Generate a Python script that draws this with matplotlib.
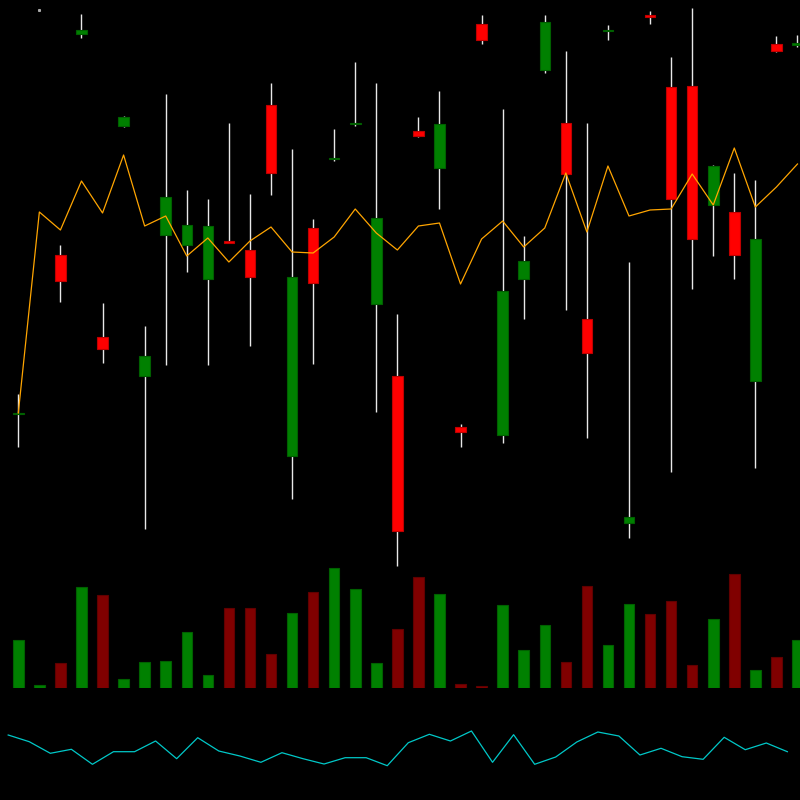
import matplotlib
matplotlib.use("Agg")
import matplotlib.pyplot as plt
import numpy as np

# OHLC data
opens = [18.65, 59.0, 34.5, 56.57, 26.3, 47.37, 22.37, 36.53, 35.47, 32.07,
         35.93, 34.97, 49.5, 14.43, 37.17, 44.07, 47.57, 29.63, 22.43, 46.93,
         43.2, 17.3, 57.6, 16.5, 32.13, 53.03, 47.7, 28.1, 56.92, 7.7,
         58.53, 51.27, 51.37, 39.5, 38.8, 21.93, 55.6, 55.47]
highs = [20.6, 59.0, 35.5, 58.6, 29.7, 48.43, 27.4, 50.6, 41.0, 40.07,
         47.67, 40.63, 51.67, 45.1, 38.1, 47.07, 53.77, 51.67, 28.6, 48.27,
         50.9, 17.6, 58.5, 49.07, 36.4, 58.5, 54.9, 47.67, 57.5, 33.83,
         58.9, 54.3, 59.17, 43.5, 42.7, 42.0, 56.4, 56.5]
lows = [15.3, 59.0, 29.8, 56.23, 23.73, 47.3, 7.1, 23.53, 32.77, 23.53,
        35.7, 25.43, 40.47, 10.1, 23.63, 43.93, 47.43, 18.8, 3.4, 46.3,
        39.1, 15.33, 55.6, 15.73, 28.07, 52.73, 29.0, 16.17, 56.03, 6.17,
        57.63, 12.8, 31.07, 34.37, 32.13, 13.23, 54.77, 55.27]
closes = [18.75, 59.0, 31.9, 57.03, 25.1, 48.27, 24.37, 40.33, 37.47, 37.4,
          35.7, 32.33, 42.73, 32.27, 31.7, 44.17, 47.73, 38.2, 6.93, 46.43,
          47.6, 16.83, 56.03, 30.9, 33.93, 57.77, 42.63, 24.67, 57.02, 8.3,
          58.33, 40.1, 36.1, 43.43, 34.47, 36.1, 54.9, 55.73]

# moving average line (orange)
ma = [18.7, 38.8, 37.0, 41.9, 38.7, 44.5, 37.4, 38.4, 34.4, 36.2,
      33.8, 35.9, 37.3, 34.8, 34.7, 36.3, 39.1, 36.7, 35.0, 37.4,
      37.7, 31.6, 36.1, 37.9, 35.3, 37.2, 42.7, 36.8, 43.4, 38.4,
      39.0, 39.1, 42.6, 39.5, 45.2, 39.3, 41.3, 43.6]

# volume
volume = [477, 30, 253, 1010, 930, 87, 260, 273, 557, 130,
          800, 800, 340, 750, 963, 1197, 987, 253, 590, 1110,
          943, 40, 20, 827, 380, 627, 263, 1017, 427, 840,
          740, 870, 230, 687, 1137, 183, 307, 477]

# oscillator (cyan)
osc = [65, 58.3, 46.7, 50.7, 35.7, 48.3, 48.3, 59, 41.3, 62.3,
       49, 44, 37.7, 47.3, 41.3, 36, 42.3, 42.3, 34.3, 57.3,
       65.7, 59, 69, 37.7, 65.3, 35.7, 43, 58, 68, 64,
       45, 51.7, 43.3, 40.7, 62.7, 50.3, 57, 48.3]

n = len(opens)
x = np.arange(n)
o = np.array(opens)
c = np.array(closes)
h = np.array(highs)
l = np.array(lows)
up = c >= o
flat = h == l  # no range -> only a dot
xlim = (-0.869, 37.12)

fig = plt.figure(figsize=(8, 8), dpi=100, facecolor="black")

# price panel
ax = fig.add_axes([0, 0, 1, 1])
ax.set_facecolor("none")
ax.vlines(x, l, h, color="#e8e8e8", linewidth=1.0, zorder=1)
ax.plot(x[flat], h[flat], "s", color="#aaaaaa", markersize=1.2, zorder=1)
m = ~flat
body_col = np.where(up, "#008000", "#ff0000")[m]
edge_col = np.where(up, "#006000", "#c00000")[m]
bottoms = np.minimum(o, c)[m]
heights = np.maximum(np.abs(c - o), 0.05)[m]
ax.bar(x[m], heights, bottom=bottoms, width=0.5, color=body_col,
       edgecolor=edge_col, linewidth=0.8, zorder=2)
ax.plot(x, ma, color="#ffa500", linewidth=0.9, zorder=3)
ax.set_xlim(*xlim)
ax.set_ylim(-20, 60)
ax.axis("off")

# volume panel
axv = fig.add_axes([0, 0.14, 1, 0.16])
axv.set_facecolor("none")
vol_col = np.where(up, "#008000", "#800000")
vol_edge = np.where(up, "#006000", "#600000")
axv.bar(x, volume, width=0.5, color=vol_col, edgecolor=vol_edge, linewidth=0.8)
axv.set_xlim(*xlim)
axv.set_ylim(0, 1280)
axv.axis("off")

# oscillator panel
axo = fig.add_axes([0, 0, 1, 0.14])
axo.set_facecolor("none")
axo.plot(x - 0.48, osc, color="#00c8c8", linewidth=0.9)
axo.set_xlim(*xlim)
axo.set_ylim(0, 112)
axo.axis("off")

fig.savefig("out.png", dpi=100, facecolor="black")
